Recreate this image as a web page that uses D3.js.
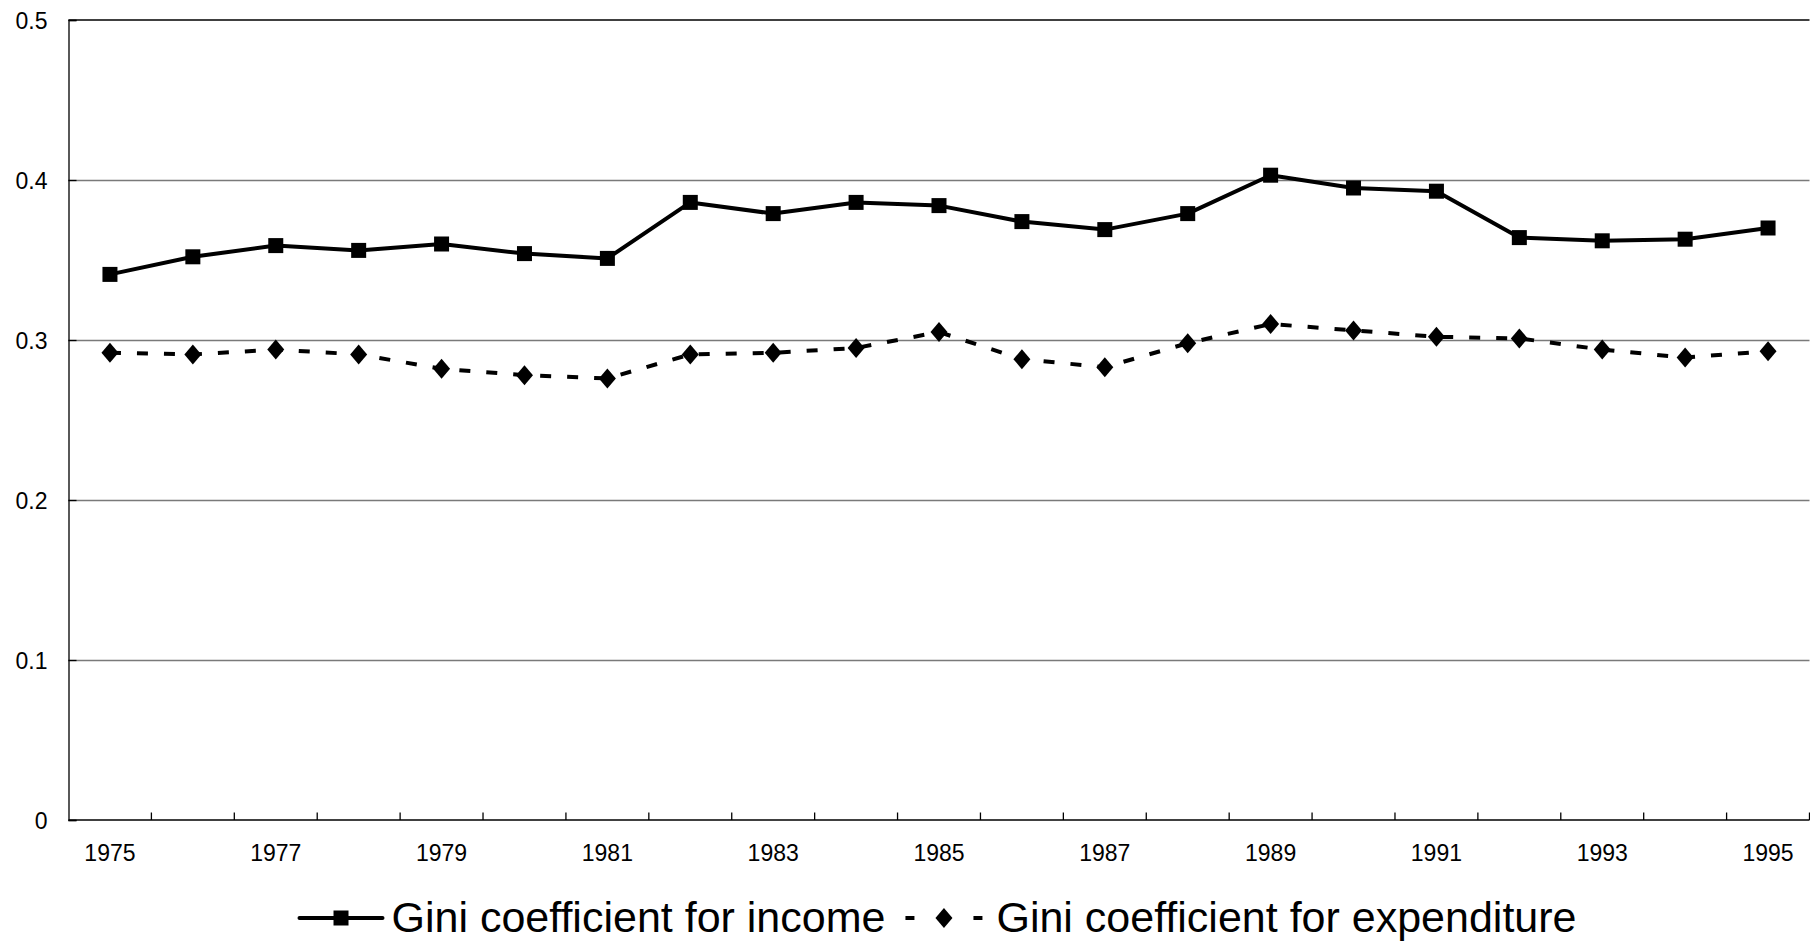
<!DOCTYPE html>
<html>
<head>
<meta charset="utf-8">
<script src="https://cdn.jsdelivr.net/npm/d3@7"></script>
<style>
  html, body { margin: 0; padding: 0; background: #fff; }
  svg { display: block; }
  text { font-family: "Liberation Sans", Arial, sans-serif; fill: #000; }
</style>
</head>
<body>
<svg id="chart" width="1810" height="943"></svg>
<script>
// Gini coefficients, 1975-1995
const years = [1975, 1976, 1977, 1978, 1979, 1980, 1981, 1982, 1983, 1984, 1985,
               1986, 1987, 1988, 1989, 1990, 1991, 1992, 1993, 1994, 1995];
const incomeGini = [0.341, 0.352, 0.359, 0.356, 0.360, 0.354, 0.351, 0.386, 0.379, 0.386, 0.384,
                    0.374, 0.369, 0.379, 0.403, 0.395, 0.393, 0.364, 0.362, 0.363, 0.370];
const expenditureGini = [0.292, 0.291, 0.294, 0.291, 0.282, 0.278, 0.276, 0.291, 0.292, 0.295, 0.305,
                         0.288, 0.283, 0.298, 0.310, 0.306, 0.302, 0.301, 0.294, 0.289, 0.293];
const yTicks = [0, 0.1, 0.2, 0.3, 0.4, 0.5];
const yearLabels = years.filter((y, i) => i % 2 === 0);
const seriesNames = ["Gini coefficient for income", "Gini coefficient for expenditure"];

const svg = d3.select("#chart");
const plot = { left: 68.5, right: 1809.5, top: 20, bottom: 820 };

const x = d3.scaleBand().domain(years).range([plot.left, plot.right]).padding(0);
const y = d3.scaleLinear().domain([0, 0.5]).range([plot.bottom, plot.top]);
const cx = d => x(d) + x.bandwidth() / 2;

// horizontal gridlines
svg.append("g")
  .selectAll("line")
  .data(yTicks.filter(t => t > 0 && t < 0.5))
  .join("line")
  .attr("x1", plot.left).attr("x2", plot.right)
  .attr("y1", d => Math.round(y(d)) + 0.5).attr("y2", d => Math.round(y(d)) + 0.5)
  .attr("stroke", "#7a7a7a").attr("stroke-width", 1.3);

// top edge of the plot area
svg.append("line")
  .attr("x1", plot.left).attr("x2", plot.right)
  .attr("y1", y(0.5)).attr("y2", y(0.5))
  .attr("stroke", "#000").attr("stroke-width", 1.3);

// y axis
const yAxis = d3.axisLeft(y).tickValues(yTicks).tickSize(-8).tickPadding(21)
  .tickFormat(d => d === 0 ? "0" : d3.format(".1f")(d));
const gy = svg.append("g").attr("transform", `translate(${plot.left},0)`).call(yAxis);
gy.select(".domain").attr("stroke", "#000").attr("stroke-width", 1.3);
gy.selectAll(".tick line").attr("stroke", "#000").attr("stroke-width", 1.3);
gy.selectAll(".tick text")
  .attr("font-size", 23).attr("font-family", "Liberation Sans, Arial, sans-serif")
  .attr("fill", "#000").attr("dy", "0.38em");

// x axis: ticks on category boundaries, labels on every other year
const gx = svg.append("g").attr("transform", `translate(0,${plot.bottom})`);
gx.append("line")
  .attr("x1", plot.left).attr("x2", plot.right)
  .attr("y1", 0).attr("y2", 0)
  .attr("stroke", "#000").attr("stroke-width", 1.5);
gx.selectAll("line.tick")
  .data(years.slice(1).concat(["end"]))
  .join("line").attr("class", "tick")
  .attr("x1", d => d === "end" ? plot.right : x(d))
  .attr("x2", d => d === "end" ? plot.right : x(d))
  .attr("y1", 0).attr("y2", -7.5)
  .attr("stroke", "#000").attr("stroke-width", 1.3);
gx.selectAll("text")
  .data(yearLabels)
  .join("text")
  .attr("x", d => cx(d)).attr("y", 41)
  .attr("text-anchor", "middle")
  .attr("font-size", 23)
  .text(d => d);

// series lines
const line = d3.line().x(d => cx(d.year)).y(d => y(d.v));
const incomeData = years.map((yr, i) => ({ year: yr, v: incomeGini[i] }));
const expData = years.map((yr, i) => ({ year: yr, v: expenditureGini[i] }));

svg.append("path").datum(expData)
  .attr("d", line).attr("fill", "none")
  .attr("stroke", "#000").attr("stroke-width", 4)
  .attr("stroke-dasharray", "11,16");

svg.append("path").datum(incomeData)
  .attr("d", line).attr("fill", "none")
  .attr("stroke", "#000").attr("stroke-width", 4)
  .attr("stroke-linejoin", "round");

// markers
const sq = 15, dm = 10;
svg.append("g").selectAll("rect").data(incomeData).join("rect")
  .attr("x", d => cx(d.year) - sq / 2).attr("y", d => y(d.v) - sq / 2)
  .attr("width", sq).attr("height", sq).attr("fill", "#000");

const diamond = (px, py) => `M${px},${py - dm}L${px + dm * 0.85},${py}L${px},${py + dm}L${px - dm * 0.85},${py}Z`;
svg.append("g").selectAll("path").data(expData).join("path")
  .attr("d", d => diamond(cx(d.year), y(d.v))).attr("fill", "#000");

// legend
const legY = 918;
const leg = svg.append("g");
const sampleW = 83, gapAfter = 9, gapBetween = 20;
const t1 = leg.append("text").attr("font-size", 43).attr("y", legY + 14).text(seriesNames[0]);
const t2 = leg.append("text").attr("font-size", 43).attr("y", legY + 14).text(seriesNames[1]);
const w1 = t1.node().getComputedTextLength();
const w2 = t2.node().getComputedTextLength();
const total = sampleW + gapAfter + w1 + gapBetween + sampleW - 6 + gapAfter + 5 + w2;
let lx = 938 - total / 2;

leg.append("line").attr("x1", lx).attr("x2", lx + sampleW).attr("y1", legY).attr("y2", legY)
  .attr("stroke", "#000").attr("stroke-width", 4).attr("stroke-linecap", "round");
leg.append("rect").attr("x", lx + sampleW / 2 - sq / 2).attr("y", legY - sq / 2)
  .attr("width", sq).attr("height", sq).attr("fill", "#000");
t1.attr("x", lx + sampleW + gapAfter);
lx += sampleW + gapAfter + w1 + gapBetween;

const s2 = sampleW - 6;
leg.append("line").attr("x1", lx).attr("x2", lx + 9).attr("y1", legY).attr("y2", legY)
  .attr("stroke", "#000").attr("stroke-width", 4);
leg.append("line").attr("x1", lx + s2 - 9).attr("x2", lx + s2).attr("y1", legY).attr("y2", legY)
  .attr("stroke", "#000").attr("stroke-width", 4);
leg.append("path").attr("d", diamond(lx + s2 / 2, legY)).attr("fill", "#000");
t2.attr("x", lx + s2 + gapAfter + 5);
</script>
</body>
</html>
